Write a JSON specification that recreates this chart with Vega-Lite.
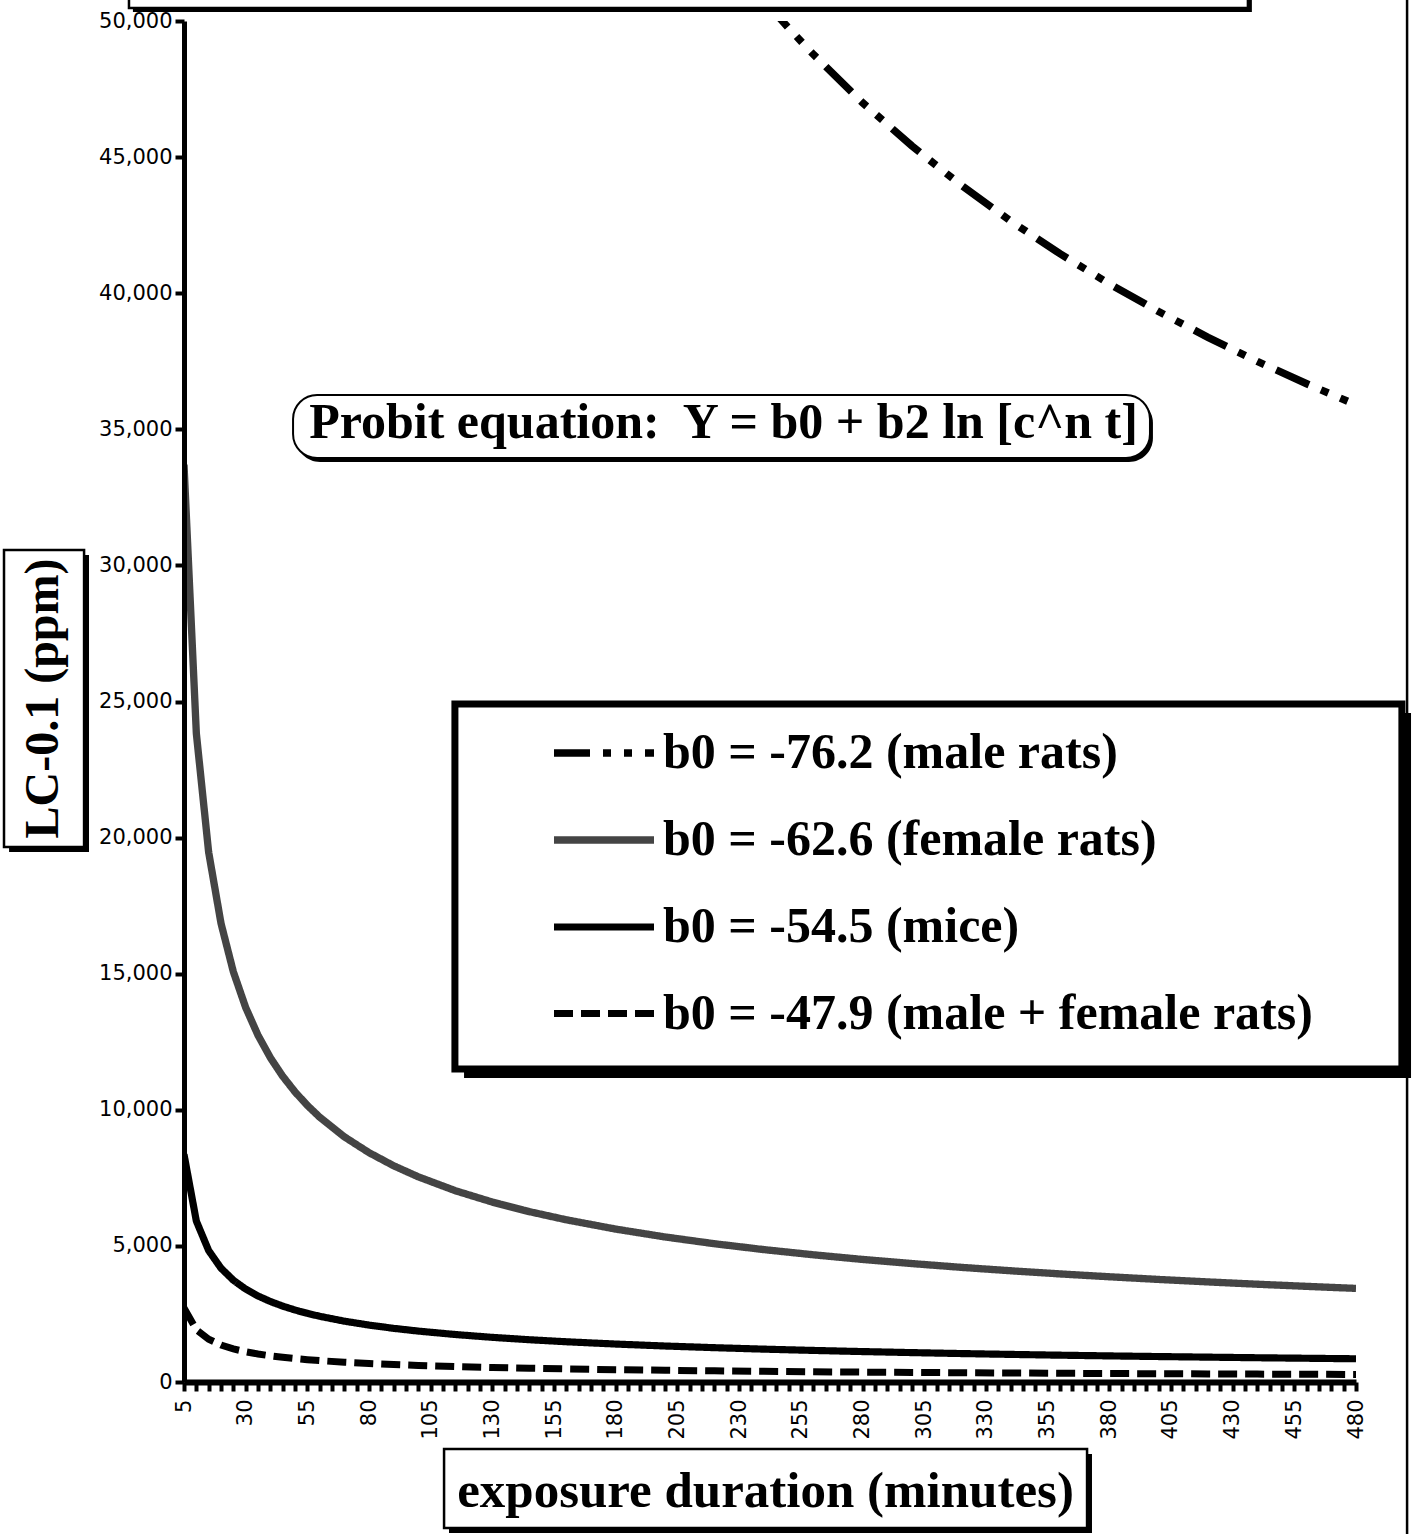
{
  "$schema": "https://vega.github.io/schema/vega-lite/v6.json",
  "width": 1172,
  "height": 1361,
  "autosize": {"type": "none"},
  "padding": {"left": 184, "top": 21, "right": 59, "bottom": 152},
  "background": "white",
  "config": {
    "view": {"stroke": null},
    "axis": {"grid": false, "labelFont": "DejaVu Sans", "labelFontSize": 21, "labelColor": "black", "domainColor": "black", "tickColor": "black"}
  },
  "resolve": {"axis": {"x": "independent", "y": "independent"}},
  "datasets": {
    "curves": [
      {"t": 240, "v": 50769, "series": "b0 = -76.2 (male rats)"},
      {"t": 250, "v": 49743, "series": "b0 = -76.2 (male rats)"},
      {"t": 260, "v": 48780, "series": "b0 = -76.2 (male rats)"},
      {"t": 280, "v": 47000, "series": "b0 = -76.2 (male rats)"},
      {"t": 300, "v": 45412, "series": "b0 = -76.2 (male rats)"},
      {"t": 320, "v": 43966, "series": "b0 = -76.2 (male rats)"},
      {"t": 340, "v": 42654, "series": "b0 = -76.2 (male rats)"},
      {"t": 360, "v": 41451, "series": "b0 = -76.2 (male rats)"},
      {"t": 380, "v": 40347, "series": "b0 = -76.2 (male rats)"},
      {"t": 400, "v": 39325, "series": "b0 = -76.2 (male rats)"},
      {"t": 420, "v": 38380, "series": "b0 = -76.2 (male rats)"},
      {"t": 440, "v": 37494, "series": "b0 = -76.2 (male rats)"},
      {"t": 460, "v": 36674, "series": "b0 = -76.2 (male rats)"},
      {"t": 480, "v": 35900, "series": "b0 = -76.2 (male rats)"},

      {"t": 5, "v": 33700, "series": "b0 = -62.6 (female rats)"},
      {"t": 10, "v": 23830, "series": "b0 = -62.6 (female rats)"},
      {"t": 15, "v": 19457, "series": "b0 = -62.6 (female rats)"},
      {"t": 20, "v": 16850, "series": "b0 = -62.6 (female rats)"},
      {"t": 25, "v": 15071, "series": "b0 = -62.6 (female rats)"},
      {"t": 30, "v": 13757, "series": "b0 = -62.6 (female rats)"},
      {"t": 35, "v": 12737, "series": "b0 = -62.6 (female rats)"},
      {"t": 40, "v": 11914, "series": "b0 = -62.6 (female rats)"},
      {"t": 45, "v": 11233, "series": "b0 = -62.6 (female rats)"},
      {"t": 50, "v": 10657, "series": "b0 = -62.6 (female rats)"},
      {"t": 55, "v": 10161, "series": "b0 = -62.6 (female rats)"},
      {"t": 60, "v": 9728, "series": "b0 = -62.6 (female rats)"},
      {"t": 70, "v": 9006, "series": "b0 = -62.6 (female rats)"},
      {"t": 80, "v": 8425, "series": "b0 = -62.6 (female rats)"},
      {"t": 90, "v": 7943, "series": "b0 = -62.6 (female rats)"},
      {"t": 100, "v": 7536, "series": "b0 = -62.6 (female rats)"},
      {"t": 115, "v": 7027, "series": "b0 = -62.6 (female rats)"},
      {"t": 130, "v": 6609, "series": "b0 = -62.6 (female rats)"},
      {"t": 145, "v": 6258, "series": "b0 = -62.6 (female rats)"},
      {"t": 160, "v": 5958, "series": "b0 = -62.6 (female rats)"},
      {"t": 180, "v": 5617, "series": "b0 = -62.6 (female rats)"},
      {"t": 200, "v": 5328, "series": "b0 = -62.6 (female rats)"},
      {"t": 220, "v": 5080, "series": "b0 = -62.6 (female rats)"},
      {"t": 240, "v": 4864, "series": "b0 = -62.6 (female rats)"},
      {"t": 260, "v": 4674, "series": "b0 = -62.6 (female rats)"},
      {"t": 280, "v": 4503, "series": "b0 = -62.6 (female rats)"},
      {"t": 300, "v": 4351, "series": "b0 = -62.6 (female rats)"},
      {"t": 320, "v": 4212, "series": "b0 = -62.6 (female rats)"},
      {"t": 340, "v": 4087, "series": "b0 = -62.6 (female rats)"},
      {"t": 360, "v": 3971, "series": "b0 = -62.6 (female rats)"},
      {"t": 380, "v": 3866, "series": "b0 = -62.6 (female rats)"},
      {"t": 400, "v": 3768, "series": "b0 = -62.6 (female rats)"},
      {"t": 420, "v": 3677, "series": "b0 = -62.6 (female rats)"},
      {"t": 440, "v": 3592, "series": "b0 = -62.6 (female rats)"},
      {"t": 460, "v": 3514, "series": "b0 = -62.6 (female rats)"},
      {"t": 480, "v": 3439, "series": "b0 = -62.6 (female rats)"},

      {"t": 5, "v": 8363, "series": "b0 = -54.5 (mice)"},
      {"t": 10, "v": 5913, "series": "b0 = -54.5 (mice)"},
      {"t": 15, "v": 4828, "series": "b0 = -54.5 (mice)"},
      {"t": 20, "v": 4181, "series": "b0 = -54.5 (mice)"},
      {"t": 25, "v": 3740, "series": "b0 = -54.5 (mice)"},
      {"t": 30, "v": 3414, "series": "b0 = -54.5 (mice)"},
      {"t": 35, "v": 3161, "series": "b0 = -54.5 (mice)"},
      {"t": 40, "v": 2957, "series": "b0 = -54.5 (mice)"},
      {"t": 45, "v": 2788, "series": "b0 = -54.5 (mice)"},
      {"t": 50, "v": 2645, "series": "b0 = -54.5 (mice)"},
      {"t": 55, "v": 2522, "series": "b0 = -54.5 (mice)"},
      {"t": 60, "v": 2414, "series": "b0 = -54.5 (mice)"},
      {"t": 70, "v": 2235, "series": "b0 = -54.5 (mice)"},
      {"t": 80, "v": 2091, "series": "b0 = -54.5 (mice)"},
      {"t": 90, "v": 1971, "series": "b0 = -54.5 (mice)"},
      {"t": 100, "v": 1870, "series": "b0 = -54.5 (mice)"},
      {"t": 115, "v": 1744, "series": "b0 = -54.5 (mice)"},
      {"t": 130, "v": 1640, "series": "b0 = -54.5 (mice)"},
      {"t": 145, "v": 1553, "series": "b0 = -54.5 (mice)"},
      {"t": 160, "v": 1478, "series": "b0 = -54.5 (mice)"},
      {"t": 180, "v": 1394, "series": "b0 = -54.5 (mice)"},
      {"t": 200, "v": 1322, "series": "b0 = -54.5 (mice)"},
      {"t": 220, "v": 1261, "series": "b0 = -54.5 (mice)"},
      {"t": 240, "v": 1207, "series": "b0 = -54.5 (mice)"},
      {"t": 260, "v": 1160, "series": "b0 = -54.5 (mice)"},
      {"t": 280, "v": 1118, "series": "b0 = -54.5 (mice)"},
      {"t": 300, "v": 1080, "series": "b0 = -54.5 (mice)"},
      {"t": 320, "v": 1045, "series": "b0 = -54.5 (mice)"},
      {"t": 340, "v": 1014, "series": "b0 = -54.5 (mice)"},
      {"t": 360, "v": 985, "series": "b0 = -54.5 (mice)"},
      {"t": 380, "v": 959, "series": "b0 = -54.5 (mice)"},
      {"t": 400, "v": 935, "series": "b0 = -54.5 (mice)"},
      {"t": 420, "v": 913, "series": "b0 = -54.5 (mice)"},
      {"t": 440, "v": 891, "series": "b0 = -54.5 (mice)"},
      {"t": 460, "v": 872, "series": "b0 = -54.5 (mice)"},
      {"t": 480, "v": 853, "series": "b0 = -54.5 (mice)"},

      {"t": 5, "v": 2719, "series": "b0 = -47.9 (male + female rats)"},
      {"t": 10, "v": 1923, "series": "b0 = -47.9 (male + female rats)"},
      {"t": 15, "v": 1570, "series": "b0 = -47.9 (male + female rats)"},
      {"t": 20, "v": 1360, "series": "b0 = -47.9 (male + female rats)"},
      {"t": 25, "v": 1216, "series": "b0 = -47.9 (male + female rats)"},
      {"t": 30, "v": 1110, "series": "b0 = -47.9 (male + female rats)"},
      {"t": 35, "v": 1028, "series": "b0 = -47.9 (male + female rats)"},
      {"t": 40, "v": 961, "series": "b0 = -47.9 (male + female rats)"},
      {"t": 45, "v": 906, "series": "b0 = -47.9 (male + female rats)"},
      {"t": 50, "v": 860, "series": "b0 = -47.9 (male + female rats)"},
      {"t": 55, "v": 820, "series": "b0 = -47.9 (male + female rats)"},
      {"t": 60, "v": 785, "series": "b0 = -47.9 (male + female rats)"},
      {"t": 70, "v": 727, "series": "b0 = -47.9 (male + female rats)"},
      {"t": 80, "v": 680, "series": "b0 = -47.9 (male + female rats)"},
      {"t": 90, "v": 641, "series": "b0 = -47.9 (male + female rats)"},
      {"t": 100, "v": 608, "series": "b0 = -47.9 (male + female rats)"},
      {"t": 115, "v": 567, "series": "b0 = -47.9 (male + female rats)"},
      {"t": 130, "v": 533, "series": "b0 = -47.9 (male + female rats)"},
      {"t": 145, "v": 505, "series": "b0 = -47.9 (male + female rats)"},
      {"t": 160, "v": 481, "series": "b0 = -47.9 (male + female rats)"},
      {"t": 180, "v": 453, "series": "b0 = -47.9 (male + female rats)"},
      {"t": 200, "v": 430, "series": "b0 = -47.9 (male + female rats)"},
      {"t": 220, "v": 410, "series": "b0 = -47.9 (male + female rats)"},
      {"t": 240, "v": 392, "series": "b0 = -47.9 (male + female rats)"},
      {"t": 260, "v": 377, "series": "b0 = -47.9 (male + female rats)"},
      {"t": 280, "v": 363, "series": "b0 = -47.9 (male + female rats)"},
      {"t": 300, "v": 351, "series": "b0 = -47.9 (male + female rats)"},
      {"t": 320, "v": 340, "series": "b0 = -47.9 (male + female rats)"},
      {"t": 340, "v": 330, "series": "b0 = -47.9 (male + female rats)"},
      {"t": 360, "v": 320, "series": "b0 = -47.9 (male + female rats)"},
      {"t": 380, "v": 312, "series": "b0 = -47.9 (male + female rats)"},
      {"t": 400, "v": 304, "series": "b0 = -47.9 (male + female rats)"},
      {"t": 420, "v": 297, "series": "b0 = -47.9 (male + female rats)"},
      {"t": 440, "v": 290, "series": "b0 = -47.9 (male + female rats)"},
      {"t": 460, "v": 284, "series": "b0 = -47.9 (male + female rats)"},
      {"t": 480, "v": 277, "series": "b0 = -47.9 (male + female rats)"}
    ]
  },
  "layer": [
    {
      "data": {"name": "curves"},
      "mark": {"type": "line", "clip": true, "strokeCap": "butt"},
      "encoding": {
        "x": {
          "field": "t", "type": "quantitative",
          "scale": {"domain": [5, 480], "nice": false, "zero": false},
          "axis": {
            "zindex": 2,
            "title": "exposure duration (minutes)",
            "titleFont": "Liberation Serif", "titleFontSize": 51, "titleFontWeight": "bold", "titleColor": "black",
            "titleX": 581, "titleY": 124, "titleAlign": "center", "titleBaseline": "alphabetic", "titleAnchor": "start",
            "values": [5,10,15,20,25,30,35,40,45,50,55,60,65,70,75,80,85,90,95,100,105,110,115,120,125,130,135,140,145,150,155,160,165,170,175,180,185,190,195,200,205,210,215,220,225,230,235,240,245,250,255,260,265,270,275,280,285,290,295,300,305,310,315,320,325,330,335,340,345,350,355,360,365,370,375,380,385,390,395,400,405,410,415,420,425,430,435,440,445,450,455,460,465,470,475,480],
            "labelExpr": "(datum.value - 5) % 25 === 0 ? format(datum.value, 'd') : ''",
            "labelAngle": -90, "labelOverlap": false, "labelBound": false, "labelFlush": false, "labelPadding": 8,
            "tickSize": 9, "tickWidth": 4, "domainWidth": 6
          }
        },
        "y": {
          "field": "v", "type": "quantitative",
          "scale": {"domain": [0, 50000], "nice": false},
          "axis": {
            "zindex": 2,
            "title": "LC-0.1 (ppm)",
            "titleFont": "Liberation Serif", "titleFontSize": 48, "titleFontWeight": "bold", "titleColor": "black",
            "titleX": -141, "titleY": 677, "titleAngle": -90, "titleAlign": "center", "titleBaseline": "middle", "titleAnchor": "start",
            "values": [0,5000,10000,15000,20000,25000,30000,35000,40000,45000,50000],
            "labelExpr": "format(datum.value, ',')",
            "labelPadding": 3, "tickSize": 9, "tickWidth": 4, "domainWidth": 5
          }
        },
        "color": {
          "field": "series", "type": "nominal",
          "scale": {"domain": ["b0 = -76.2 (male rats)", "b0 = -62.6 (female rats)", "b0 = -54.5 (mice)", "b0 = -47.9 (male + female rats)"], "range": ["#000000", "#444444", "#000000", "#000000"]},
          "legend": {
            "orient": "none", "legendX": 366, "legendY": 678, "title": null,
            "symbolType": "stroke", "symbolSize": 10000,
            "labelFont": "Liberation Serif", "labelFontSize": 50, "labelFontWeight": "bold", "labelColor": "black",
            "labelOffset": 5, "rowPadding": 8, "labelLimit": 1000, "padding": 0
          }
        },
        "strokeDash": {
          "field": "series", "type": "nominal",
          "scale": {"domain": ["b0 = -76.2 (male rats)", "b0 = -62.6 (female rats)", "b0 = -54.5 (mice)", "b0 = -47.9 (male + female rats)"], "range": [[36, 13, 8, 13, 8, 13], [1, 0], [1, 0], [19, 8]]}
        },
        "strokeWidth": {
          "field": "series", "type": "nominal",
          "scale": {"domain": ["b0 = -76.2 (male rats)", "b0 = -62.6 (female rats)", "b0 = -54.5 (mice)", "b0 = -47.9 (male + female rats)"], "range": [7.5, 7, 3, 4.5]}
        }
      }
    },
    {
      "data": {"values": [{}]},
      "mark": {"type": "rect", "fill": "black"},
      "encoding": {
        "x": {"datum": -15.7, "type": "quantitative", "scale": {"domain": [5, 480], "nice": false, "zero": false}, "axis": null},
        "x2": {"datum": 437.8},
        "y": {"datum": 53000, "type": "quantitative", "scale": {"domain": [0, 50000], "nice": false}, "axis": null},
        "y2": {"datum": 50331}
      }
    },
    {
      "data": {"values": [{}]},
      "mark": {"type": "rect", "fill": "white", "stroke": "black", "strokeWidth": 2.5},
      "encoding": {
        "x": {"datum": -17.3, "type": "quantitative", "scale": {"domain": [5, 480], "nice": false, "zero": false}, "axis": null},
        "x2": {"datum": 436.2},
        "y": {"datum": 53000, "type": "quantitative", "scale": {"domain": [0, 50000], "nice": false}, "axis": null},
        "y2": {"datum": 50478}
      }
    },
    {
      "data": {"values": [{}]},
      "mark": {"type": "rule", "stroke": "black", "strokeWidth": 2.5},
      "encoding": {
        "x": {"datum": 500.7, "type": "quantitative", "scale": {"domain": [5, 480], "nice": false, "zero": false}, "axis": null},
        "y": {"datum": 52000, "type": "quantitative", "scale": {"domain": [0, 50000], "nice": false}, "axis": null},
        "y2": {"datum": -6000}
      }
    },
    {
      "data": {"values": [{}]},
      "mark": {"type": "rect", "fill": "black", "cornerRadius": 24},
      "encoding": {
        "x": {"datum": 50.4, "type": "quantitative", "scale": {"domain": [5, 480], "nice": false, "zero": false}, "axis": null},
        "x2": {"datum": 397.7},
        "y": {"datum": 36113, "type": "quantitative", "scale": {"domain": [0, 50000], "nice": false}, "axis": null},
        "y2": {"datum": 33799}
      }
    },
    {
      "data": {"values": [{}]},
      "mark": {"type": "rect", "fill": "white", "stroke": "black", "strokeWidth": 2, "cornerRadius": 24},
      "encoding": {
        "x": {"datum": 49.2, "type": "quantitative", "scale": {"domain": [5, 480], "nice": false, "zero": false}, "axis": null},
        "x2": {"datum": 396.5},
        "y": {"datum": 36260, "type": "quantitative", "scale": {"domain": [0, 50000], "nice": false}, "axis": null},
        "y2": {"datum": 33946}
      }
    },
    {
      "data": {"values": [{}]},
      "mark": {"type": "text", "font": "Liberation Serif", "fontSize": 50, "fontWeight": "bold", "align": "center", "baseline": "alphabetic", "color": "black"},
      "encoding": {
        "x": {"datum": 223.65, "type": "quantitative", "scale": {"domain": [5, 480], "nice": false, "zero": false}, "axis": null},
        "y": {"datum": 34681, "type": "quantitative", "scale": {"domain": [0, 50000], "nice": false}, "axis": null},
        "text": {"value": "Probit equation:\u00a0 Y = b0 + b2 ln [c^n t]"}
      }
    },
    {
      "data": {"values": [{}]},
      "mark": {"type": "rect", "fill": "black"},
      "encoding": {
        "x": {"datum": 118.5, "type": "quantitative", "scale": {"domain": [5, 480], "nice": false, "zero": false}, "axis": null},
        "x2": {"datum": 502.3},
        "y": {"datum": 24577, "type": "quantitative", "scale": {"domain": [0, 50000], "nice": false}, "axis": null},
        "y2": {"datum": 11168}
      }
    },
    {
      "data": {"values": [{}]},
      "mark": {"type": "rect", "fill": "white", "stroke": "black", "strokeWidth": 7},
      "encoding": {
        "x": {"datum": 114.8, "type": "quantitative", "scale": {"domain": [5, 480], "nice": false, "zero": false}, "axis": null},
        "x2": {"datum": 498.6},
        "y": {"datum": 24908, "type": "quantitative", "scale": {"domain": [0, 50000], "nice": false}, "axis": null},
        "y2": {"datum": 11499}
      }
    },
    {
      "data": {"values": [{}]},
      "mark": {"type": "rect", "fill": "black"},
      "encoding": {
        "x": {"datum": -65.9, "type": "quantitative", "scale": {"domain": [5, 480], "nice": false, "zero": false}, "axis": null},
        "x2": {"datum": -33.5},
        "y": {"datum": 30382, "type": "quantitative", "scale": {"domain": [0, 50000], "nice": false}, "axis": null},
        "y2": {"datum": 19471}
      }
    },
    {
      "data": {"values": [{}]},
      "mark": {"type": "rect", "fill": "white", "stroke": "black", "strokeWidth": 2.5},
      "encoding": {
        "x": {"datum": -67.95, "type": "quantitative", "scale": {"domain": [5, 480], "nice": false, "zero": false}, "axis": null},
        "x2": {"datum": -35.5},
        "y": {"datum": 30566, "type": "quantitative", "scale": {"domain": [0, 50000], "nice": false}, "axis": null},
        "y2": {"datum": 19655}
      }
    },
    {
      "data": {"values": [{}]},
      "mark": {"type": "rect", "fill": "black"},
      "encoding": {
        "x": {"datum": 112.4, "type": "quantitative", "scale": {"domain": [5, 480], "nice": false, "zero": false}, "axis": null},
        "x2": {"datum": 373.0},
        "y": {"datum": -2645, "type": "quantitative", "scale": {"domain": [0, 50000], "nice": false}, "axis": null},
        "y2": {"datum": -5548}
      }
    },
    {
      "data": {"values": [{}]},
      "mark": {"type": "rect", "fill": "white", "stroke": "black", "strokeWidth": 2.5},
      "encoding": {
        "x": {"datum": 110.4, "type": "quantitative", "scale": {"domain": [5, 480], "nice": false, "zero": false}, "axis": null},
        "x2": {"datum": 371.0},
        "y": {"datum": -2461, "type": "quantitative", "scale": {"domain": [0, 50000], "nice": false}, "axis": null},
        "y2": {"datum": -5364}
      }
    }
  ]
}
